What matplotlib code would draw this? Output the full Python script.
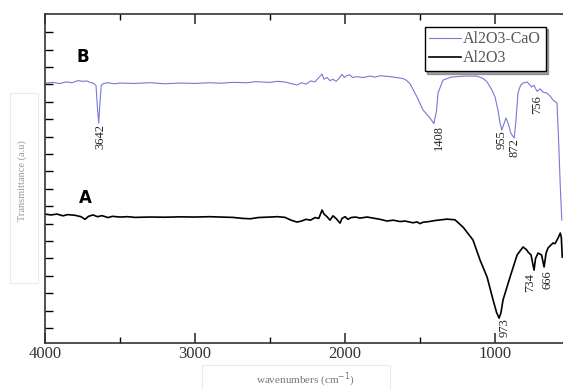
import matplotlib
matplotlib.use("Agg")
import matplotlib.pyplot as plt
from matplotlib.ticker import FixedLocator, NullFormatter
from matplotlib.patches import Rectangle

# ---- data ----
wn_B = [4000, 3950, 3900, 3860, 3820, 3780, 3750, 3720, 3700, 3680, 3660, 3650, 3642, 3634, 3625,
        3610, 3580, 3540, 3500, 3400, 3300, 3200, 3100, 3000, 2900, 2833, 2750, 2650, 2600, 2500,
        2450, 2400, 2360, 2320, 2290, 2260, 2230, 2200, 2180, 2153, 2140, 2120, 2100, 2080, 2060,
        2040, 2020, 2005, 1990, 1967, 1950, 1920, 1880, 1833, 1800, 1767, 1700, 1633, 1600, 1567,
        1540, 1520, 1480, 1433, 1408, 1390, 1380, 1347, 1300, 1287, 1200, 1120, 1080, 1053, 1025,
        1000, 980, 967, 955, 940, 927, 910, 895, 872, 860, 847, 830, 813, 787, 770, 756, 740, 720,
        700, 680, 653, 630, 613, 587, 575, 565, 555]
tr_B = [14.08, 14.12, 14.05, 14.15, 14.10, 14.22, 14.18, 14.20, 14.12, 14.08, 13.95, 12.6, 11.78, 12.9, 13.95,
        14.05, 14.10, 14.04, 14.08, 14.06, 14.10, 14.04, 14.08, 14.06, 14.10, 14.07, 14.12, 14.10, 14.16, 14.12,
        14.18, 14.14, 14.05, 13.97, 14.10, 14.02, 14.20, 14.15, 14.35, 14.60, 14.30, 14.40, 14.22, 14.30, 14.18,
        14.35, 14.58, 14.40, 14.50, 14.55, 14.40, 14.45, 14.40, 14.48, 14.42, 14.50, 14.45, 14.37, 14.30, 14.05,
        13.6, 13.28, 12.53, 12.07, 11.75, 12.5, 13.51, 14.25, 14.40, 14.43, 14.48, 14.48, 14.35, 14.14, 13.75,
        13.28, 12.5, 11.8, 11.38, 11.75, 12.07, 11.7, 11.2, 10.92, 12.0, 13.51, 13.95, 14.08, 14.14, 14.0, 13.85, 13.95, 13.6,
        13.75, 13.56, 13.50, 13.3, 13.10, 12.93, 10.5, 8.1, 6.2]

wn_A = [4000, 3960, 3920, 3880, 3850, 3800, 3760, 3733, 3710, 3680, 3650, 3620, 3580, 3550, 3500,
        3450, 3400, 3300, 3200, 3100, 3000, 2900, 2833, 2750, 2680, 2630, 2580, 2500, 2450, 2400,
        2360, 2320, 2290, 2260, 2230, 2200, 2175, 2153, 2140, 2120, 2100, 2080, 2060, 2040, 2033,
        2020, 2000, 1980, 1960, 1930, 1900, 1853, 1800, 1767, 1720, 1680, 1633, 1600, 1547, 1520,
        1500, 1480, 1440, 1400, 1360, 1320, 1267, 1213, 1147, 1100, 1053, 1013, 990, 973, 960,
        947, 900, 853, 813, 790, 780, 760, 740, 730, 713, 690, 673, 660, 647, 630, 613, 600,
        580, 565, 558, 552]
tr_A = [6.55, 6.50, 6.55, 6.45, 6.52, 6.48, 6.40, 6.25, 6.42, 6.50, 6.40, 6.46, 6.35, 6.42, 6.38,
        6.40, 6.36, 6.38, 6.37, 6.39, 6.38, 6.40, 6.38, 6.36, 6.30, 6.28, 6.35, 6.38, 6.40, 6.36,
        6.20, 6.09, 6.15, 6.25, 6.20, 6.35, 6.30, 6.78, 6.55, 6.40, 6.20, 6.45, 6.30, 6.10, 6.03,
        6.30, 6.40, 6.25, 6.35, 6.38, 6.32, 6.38, 6.30, 6.25, 6.15, 6.20, 6.12, 6.15, 6.05, 6.10,
        6.00, 6.08, 6.12, 6.18, 6.22, 6.26, 6.22, 5.80, 5.06, 3.91, 2.93, 1.61, 0.9, 0.57, 0.9,
        1.61, 2.93, 4.20, 4.66, 4.50, 4.37, 4.2, 3.33, 4.0, 4.31, 4.2, 3.51, 4.3, 4.60, 4.75, 4.89, 4.85,
        5.17, 5.46, 5.2, 4.08]

# peak labels: text, x, y(top of text)
lab_B = ["3642", "1408", "955", "872", "756"]
lab_B_x = [3633, 1375, 953, 867, 720]
lab_B_y = [11.75, 11.65, 11.35, 10.9, 13.4]
lab_A = ["973", "734", "666"]
lab_A_x = [935, 767, 650]
lab_A_y = [0.55, 3.15, 3.3]

series_names = ["Al2O3-CaO", "Al2O3"]
xticks_major = [4000, 3000, 2000, 1000]
xticks_minor = [3500, 2500, 1500]

# ---- figure ----
W, H = 563, 390
fig = plt.figure(figsize=(5.63, 3.90), dpi=100)
ax = fig.add_axes([45/W, 1-343/H, 518/W, 329/H])

blue = "#7878d8"
ax.plot(wn_B, tr_B, color=blue, lw=0.8, label=series_names[0])
ax.plot(wn_A, tr_A, color="black", lw=1.2, label=series_names[1])

serif = ["Liberation Serif", "DejaVu Serif"]
for t, x, y in zip(lab_B, lab_B_x, lab_B_y):
    ax.text(x, y, t, rotation=90, ha="center", va="top", fontsize=9, family=serif, color="#222222")
for t, x, y in zip(lab_A, lab_A_x, lab_A_y):
    ax.text(x, y, t, rotation=90, ha="center", va="top", fontsize=9, family=serif, color="#222222")

ax.text(3745, 15.55, "B", fontsize=12, fontweight="bold", family="DejaVu Sans", ha="center", va="center")
ax.text(3733, 7.45, "A", fontsize=12, fontweight="bold", family="DejaVu Sans", ha="center", va="center")

ax.set_xlim(4000, 547)
ax.set_ylim(-0.86, 18.05)

ax.xaxis.set_major_locator(FixedLocator(xticks_major))
ax.xaxis.set_minor_locator(FixedLocator(xticks_minor))
ax.set_yticks(range(0, 18))
ax.yaxis.set_major_formatter(NullFormatter())
ax.tick_params(axis="x", which="major", direction="in", length=7, width=1.2, top=True,
               labelsize=12, pad=2, colors="#333333")
ax.tick_params(axis="x", which="minor", direction="in", length=4, width=1.0, top=True)
ax.tick_params(axis="y", which="major", direction="in", length=6, width=1.0, left=True, right=False)
for lbl in ax.get_xticklabels():
    lbl.set_family(serif)

for s in ["left", "bottom", "top"]:
    ax.spines[s].set_linewidth(1.2)
    ax.spines[s].set_color("#333333")
ax.spines["right"].set_visible(False)

# axis titles (faint, with faint frames as in the reference)
fig.text(22/W, 1-181/H, "Transmittance (a.u)", rotation=90, ha="center", va="center",
         fontsize=7.5, family=serif, color="#999999")
fig.patches.append(Rectangle((10/W, 1-283/H), 28/W, 190/H, transform=fig.transFigure,
                             fill=False, edgecolor="#ececec", lw=0.8))
fig.text(305/W, 1-380/H, "wavenumbers (cm$^{-1}$)", ha="center", va="center",
         fontsize=8, family=serif, color="#777777")
fig.patches.append(Rectangle((202/W, 1-392/H), 188/W, 27/H, transform=fig.transFigure,
                             fill=False, edgecolor="#ececec", lw=0.8))

leg = ax.legend(loc="upper left", bbox_to_anchor=(0.733, 0.962), frameon=True, fancybox=False,
                shadow=True, edgecolor="black", prop={"family": serif, "size": 11.5},
                handlelength=2.0, handletextpad=0.1, borderpad=0.3, labelspacing=0.2,
                borderaxespad=0)
leg.get_frame().set_linewidth(1.0)
for txt in leg.get_texts():
    txt.set_color("#555555")

fig.savefig("out.png", dpi=100)
